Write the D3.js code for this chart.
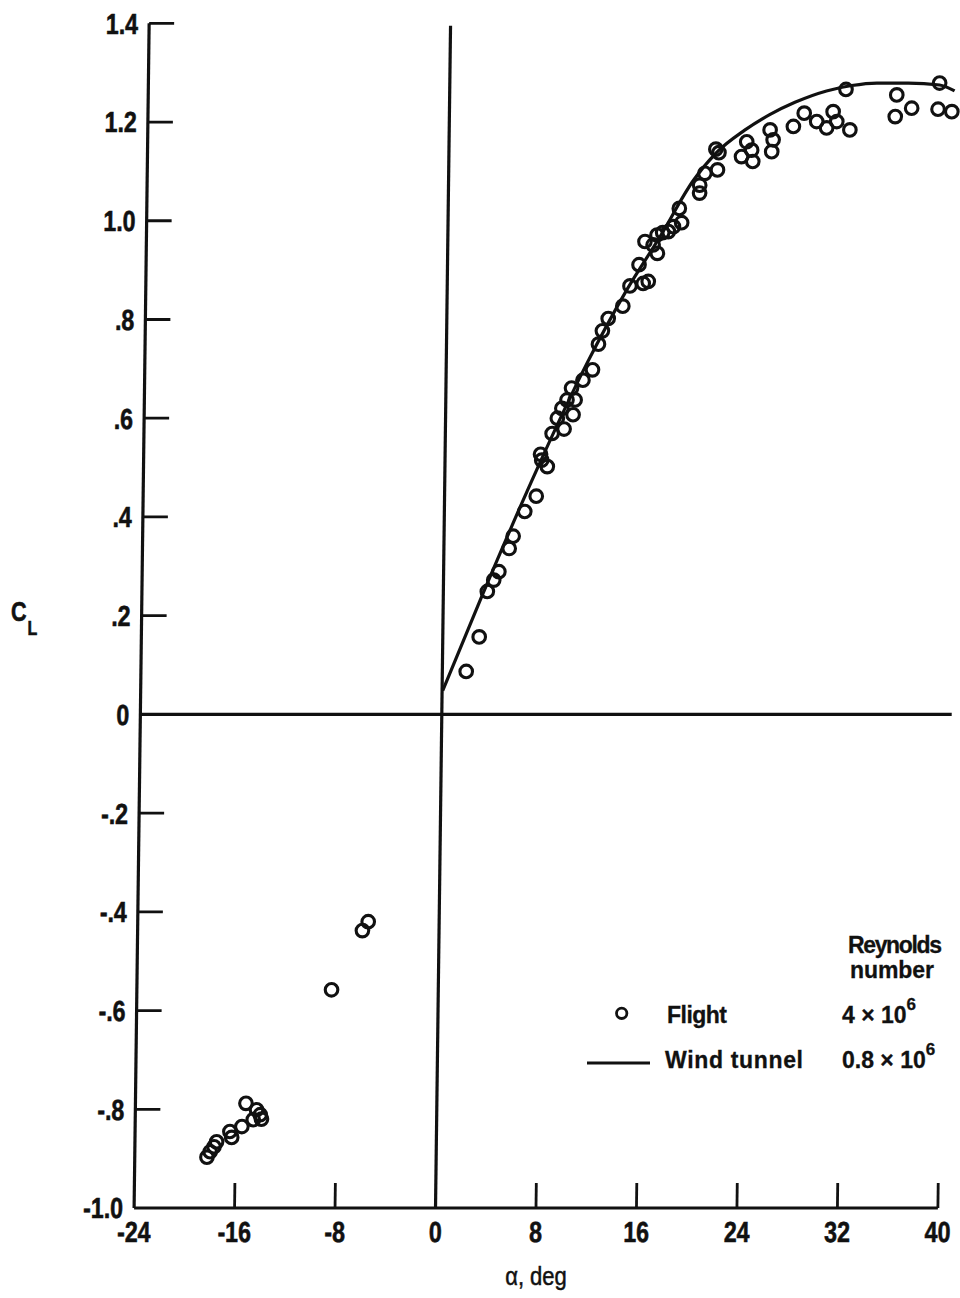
<!DOCTYPE html>
<html>
<head>
<meta charset="utf-8">
<script src="https://cdn.jsdelivr.net/npm/d3@7"></script>
<style>
  html, body { margin: 0; padding: 0; background: #fff; }
  svg { display: block; }
  .tick-label { font-family: "Liberation Sans", "DejaVu Sans", sans-serif; font-weight: bold; font-size: 29px; fill: #111; stroke: #111; stroke-width: 0.6px; }
  .legend-text { font-family: "Liberation Sans", "DejaVu Sans", sans-serif; font-weight: bold; font-size: 23px; fill: #111; stroke: #111; stroke-width: 0.3px; }
</style>
</head>
<body>
<script>
// Flight data: angle of attack (deg) and lift coefficient
const flightAlpha = [
  1.9, 2.9, 3.5, 4.0, 4.4, 5.2, 5.5, 6.4, 7.3, 7.6, 7.7, 8.15, 8.5, 8.9, 9.45, 9.25,
  9.65, 10.0, 10.15, 10.3, 10.9, 11.65, 12.1, 12.4, 12.85, 14.0, 14.55, 15.25, 15.6, 16.0,
  15.7, 16.35, 16.7, 16.65, 17.1, 17.55, 17.95, 18.4, 18.6, 20.0, 20.0, 20.4, 21.4, 21.25,
  21.5, 23.3, 23.7, 24.2, 24.1, 25.55, 25.8, 25.7, 27.4, 28.25, 29.25, 30.05, 30.55, 30.85,
  31.9, 31.55, 35.6, 35.5, 36.8, 39.0, 38.9, 40.0,
  -5.65, -6.1, -8.5, -15.2, -14.35, -14.05, -13.95, -14.6, -15.5, -16.45, -16.3, -17.5,
  -17.7, -18.0, -18.25
];
const flightCL = [
  0.087, 0.157, 0.249, 0.272, 0.289, 0.336, 0.361, 0.411, 0.442, 0.527, 0.515, 0.502, 0.569, 0.600, 0.578, 0.620,
  0.637, 0.661, 0.607, 0.637, 0.677, 0.698, 0.750, 0.777, 0.802, 0.827, 0.868, 0.911, 0.873, 0.877,
  0.958, 0.951, 0.934, 0.971, 0.976, 0.978, 0.988, 1.025, 0.996, 1.056, 1.072, 1.096, 1.103, 1.145,
  1.138, 1.130, 1.160, 1.120, 1.143, 1.184, 1.164, 1.140, 1.191, 1.218, 1.201, 1.188, 1.221, 1.201,
  1.184, 1.266, 1.255, 1.211, 1.228, 1.279, 1.226, 1.221,
  -0.420, -0.438, -0.558, -0.788, -0.801, -0.811, -0.820, -0.821, -0.835, -0.845, -0.857, -0.866,
  -0.876, -0.886, -0.897
];

// Wind-tunnel curve
const tunnelAlpha = [0.05, 3, 7.3, 11.2, 14.3, 16.9, 19.5, 21.3, 23.5, 25.5, 27.5, 30, 32, 34, 36.5, 39, 40.2];
const tunnelCL    = [0.048, 0.235, 0.495, 0.711, 0.86, 0.968, 1.082, 1.138, 1.183, 1.215, 1.240, 1.263, 1.274, 1.279, 1.279, 1.275, 1.263];

// Axis ticks
const xTicks = [-24, -16, -8, 0, 8, 16, 24, 32, 40];
const xTickLabels = ["-24", "-16", "-8", "0", "8", "16", "24", "32", "40"];
const yTicks = [1.4, 1.2, 1.0, 0.8, 0.6, 0.4, 0.2, 0, -0.2, -0.4, -0.6, -0.8, -1.0];
const yTickLabels = ["1.4", "1.2", "1.0", ".8", ".6", ".4", ".2", "0", "-.2", "-.4", "-.6", "-.8", "-1.0"];

const W = 960, H = 1298;
const x = d3.scaleLinear().domain([-24, 40]).range([134.1, 937.9]);
const y = d3.scaleLinear().domain([-1.0, 1.4]).range([1208, 23.3]);
const base = y(-1.0);
const skewDeg = Math.atan(-0.0127) * 180 / Math.PI;
const narrow = 0.8;

const svg = d3.select("body").append("svg")
  .attr("width", W).attr("height", H)
  .attr("viewBox", `0 0 ${W} ${H}`);
svg.append("rect").attr("width", W).attr("height", H).attr("fill", "#fff");

const g = svg.append("g")
  .attr("transform", `translate(0,${base}) skewX(${skewDeg}) translate(0,${-base})`);

const ink = "#111";
const lineW = 3.2;

// Frame: left axis and bottom axis
g.append("line").attr("x1", x(-24)).attr("x2", x(-24)).attr("y1", y(1.4)).attr("y2", y(-1.0))
  .attr("stroke", ink).attr("stroke-width", lineW);
g.append("line").attr("x1", x(-24)).attr("x2", x(40)).attr("y1", y(-1.0)).attr("y2", y(-1.0))
  .attr("stroke", ink).attr("stroke-width", lineW);

// Zero reference lines
g.append("line").attr("x1", x(-24)).attr("x2", x(40.6)).attr("y1", y(0)).attr("y2", y(0))
  .attr("stroke", ink).attr("stroke-width", lineW);
g.append("line").attr("x1", x(0)).attr("x2", x(0)).attr("y1", y(1.395)).attr("y2", y(-1.0))
  .attr("stroke", ink).attr("stroke-width", lineW);

// Y ticks (inward) and labels
yTicks.forEach((v, i) => {
  if (v > -1.0 && v !== 0) {
    g.append("line").attr("x1", x(-24)).attr("x2", x(-24) + 25).attr("y1", y(v)).attr("y2", y(v))
      .attr("stroke", ink).attr("stroke-width", 2.8);
  }
  g.append("text").attr("class", "tick-label")
    .attr("transform", `translate(${x(-24) - 11},${y(v)}) scale(${narrow},1)`)
    .attr("dy", "0.36em")
    .attr("text-anchor", "end").text(yTickLabels[i]);
});

// X ticks (inward) and labels
xTicks.forEach((v, i) => {
  if (v !== -24 && v !== 0) {
    g.append("line").attr("x1", x(v)).attr("x2", x(v)).attr("y1", y(-1.0)).attr("y2", y(-1.0) - 25)
      .attr("stroke", ink).attr("stroke-width", 2.8);
  }
  g.append("text").attr("class", "tick-label")
    .attr("transform", `translate(${x(v)},${y(-1.0) + 34}) scale(${narrow},1)`)
    .attr("text-anchor", "middle").text(xTickLabels[i]);
});

// Wind-tunnel curve
const tunnel = tunnelAlpha.map((a, i) => [a, tunnelCL[i]]);
g.append("path")
  .attr("d", d3.line().x(d => x(d[0])).y(d => y(d[1])).curve(d3.curveMonotoneX)(tunnel))
  .attr("fill", "none").attr("stroke", ink).attr("stroke-width", lineW);

// Flight points
const flight = flightAlpha.map((a, i) => [a, flightCL[i]]);
g.selectAll("circle.flight").data(flight).enter().append("circle")
  .attr("class", "flight")
  .attr("cx", d => x(d[0])).attr("cy", d => y(d[1])).attr("r", 6.3)
  .attr("fill", "none").attr("stroke", ink).attr("stroke-width", 3.1);

// Axis titles
const ct = svg.append("text").attr("class", "tick-label")
  .attr("transform", `translate(11,621) scale(${narrow},1)`).style("font-size", "27px");
ct.append("tspan").text("C");
ct.append("tspan").attr("dx", 1).attr("dy", 14).style("font-size", "20px").text("L");

svg.append("text")
  .attr("transform", `translate(536,1285) scale(0.88,1)`).attr("text-anchor", "middle")
  .style("font-family", "\"Liberation Sans\", \"DejaVu Sans\", sans-serif")
  .style("font-size", "25px").style("fill", ink).style("stroke", ink).style("stroke-width", "0.5px")
  .text("\u03b1,  deg");

// Legend
const lg = svg.append("g");
lg.append("text").attr("class", "legend-text").attr("x", 895).attr("y", 953).attr("text-anchor", "middle")
  .attr("textLength", 94).text("Reynolds");
lg.append("text").attr("class", "legend-text").attr("x", 892).attr("y", 978).attr("text-anchor", "middle")
  .attr("textLength", 84).text("number");

lg.append("circle").attr("cx", 621.7).attr("cy", 1013.3).attr("r", 5.2)
  .attr("fill", "none").attr("stroke", ink).attr("stroke-width", 2.8);
lg.append("text").attr("class", "legend-text").attr("x", 667).attr("y", 1023)
  .attr("textLength", 60).text("Flight");
const r1 = lg.append("text").attr("class", "legend-text").attr("x", 842).attr("y", 1023);
r1.append("tspan").text("4 \u00d7 10");
r1.append("tspan").attr("dy", -13).style("font-size", "17px").text("6");

lg.append("line").attr("x1", 587).attr("x2", 650).attr("y1", 1063).attr("y2", 1063)
  .attr("stroke", ink).attr("stroke-width", 2.8);
lg.append("text").attr("class", "legend-text").attr("x", 665).attr("y", 1068)
  .attr("textLength", 138).text("Wind tunnel");
const r2 = lg.append("text").attr("class", "legend-text").attr("x", 842).attr("y", 1068);
r2.append("tspan").text("0.8 \u00d7 10");
r2.append("tspan").attr("dy", -13).style("font-size", "17px").text("6");
</script>
</body>
</html>
